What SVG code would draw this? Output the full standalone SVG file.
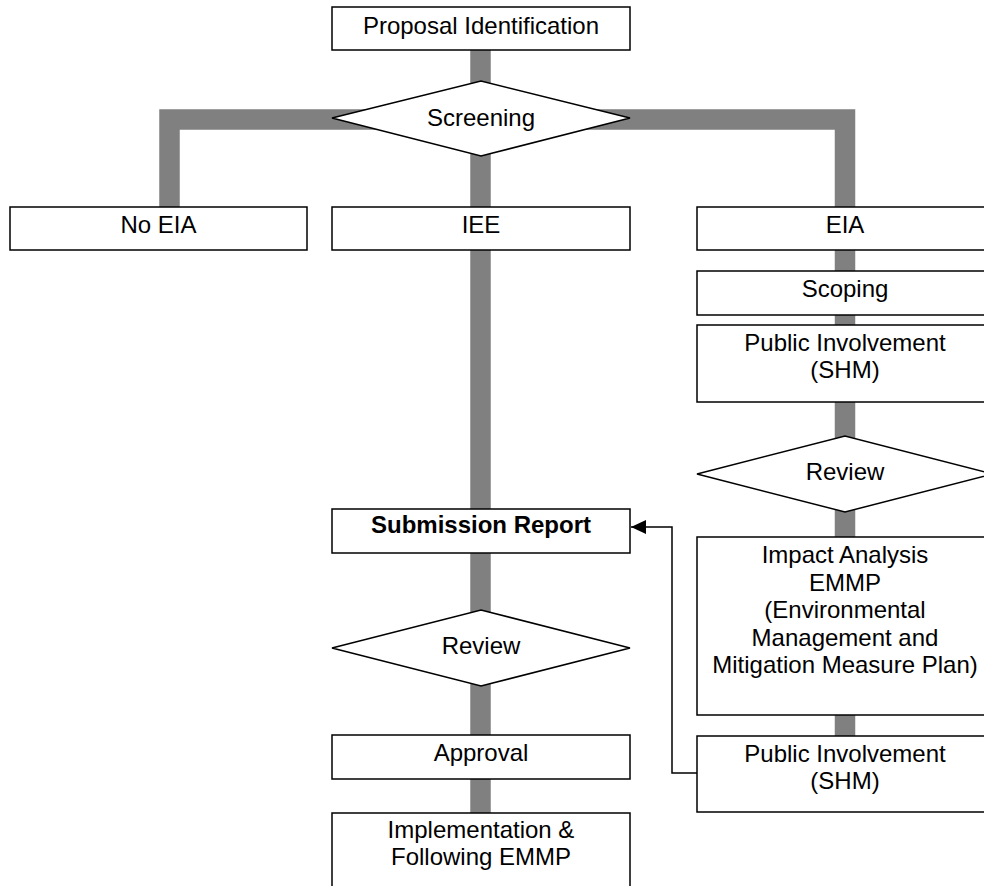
<svg xmlns="http://www.w3.org/2000/svg" width="984" height="886" viewBox="0 0 984 886">
  <defs>
    <style>
      .box { fill: #ffffff; stroke: #000000; stroke-width: 1.5; }
      .bar { fill: none; stroke: #808080; stroke-width: 20.5; stroke-linejoin: miter; stroke-linecap: butt; }
      .link { fill: none; stroke: #000000; stroke-width: 1.5; }
      text { font-family: "Liberation Sans", Arial, sans-serif; font-size: 24px; fill: #000000; text-anchor: middle; }
      .bold { font-weight: bold; }
    </style>
    <marker id="arrow" markerUnits="userSpaceOnUse" markerWidth="16" markerHeight="16" refX="15" refY="7" orient="auto">
      <path d="M0,0 L15,7 L0,14 Z" fill="#000000"/>
    </marker>
  </defs>
  <rect width="984" height="886" fill="#ffffff"/>

  <g id="connectors">
    <path class="bar" d="M169.5,207 V119.5 H845 V736"/>
    <path class="bar" d="M480.5,50 V813"/>
    <path class="link" d="M697,773 H672 V527 H631" marker-end="url(#arrow)"/>
  </g>

  <g id="proposal">
    <rect class="box" x="332" y="7" width="298" height="43"/>
    <text x="481" y="34">Proposal Identification</text>
  </g>
  <g id="screening">
    <polygon class="box" points="332,118 481,81 630,118 481,156"/>
    <text x="481" y="126">Screening</text>
  </g>
  <g id="no-eia">
    <rect class="box" x="10" y="207" width="297" height="43"/>
    <text x="158.5" y="233">No EIA</text>
  </g>
  <g id="iee">
    <rect class="box" x="332" y="207" width="298" height="43"/>
    <text x="481" y="233">IEE</text>
  </g>
  <g id="eia">
    <rect class="box" x="697" y="207" width="298" height="43"/>
    <text x="845" y="233">EIA</text>
  </g>
  <g id="scoping">
    <rect class="box" x="697" y="271" width="298" height="44"/>
    <text x="845" y="297">Scoping</text>
  </g>
  <g id="public-involvement-1">
    <rect class="box" x="697" y="325" width="298" height="77"/>
    <text x="845" y="351">Public Involvement</text>
    <text x="845" y="378">(SHM)</text>
  </g>
  <g id="review-eia">
    <polygon class="box" points="697,474 845,436 993,474 845,512"/>
    <text x="845" y="480">Review</text>
  </g>
  <g id="impact-analysis">
    <rect class="box" x="697" y="537" width="298" height="178"/>
    <text x="845" y="563">Impact Analysis</text>
    <text x="845" y="590.5">EMMP</text>
    <text x="845" y="618">(Environmental</text>
    <text x="845" y="645.5">Management and</text>
    <text x="845" y="673">Mitigation Measure Plan)</text>
  </g>
  <g id="public-involvement-2">
    <rect class="box" x="697" y="736" width="298" height="76"/>
    <text x="845" y="762">Public Involvement</text>
    <text x="845" y="789">(SHM)</text>
  </g>
  <g id="submission-report">
    <rect class="box" x="332" y="509" width="298" height="44"/>
    <text class="bold" x="481" y="533">Submission Report</text>
  </g>
  <g id="review-iee">
    <polygon class="box" points="332,648 481,610 630,648 481,686"/>
    <text x="481" y="654">Review</text>
  </g>
  <g id="approval">
    <rect class="box" x="332" y="735" width="298" height="44"/>
    <text x="481" y="761">Approval</text>
  </g>
  <g id="implementation">
    <rect class="box" x="332" y="813" width="298" height="80"/>
    <text x="481" y="838">Implementation &amp;</text>
    <text x="481" y="865">Following EMMP</text>
  </g>
</svg>
